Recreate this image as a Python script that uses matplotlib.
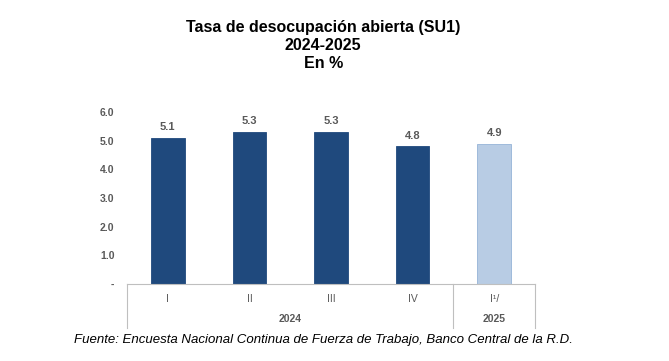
import matplotlib.pyplot as plt
import matplotlib.transforms as mtransforms

plt.rcParams['font.family'] = ['Liberation Sans', 'DejaVu Sans']

quarters = ['I', 'II', 'III', 'IV', 'I\u00b9/']
values = [5.1, 5.3, 5.3, 4.8, 4.9]
years = ['2024', '2025']
year_groups = [(0, 3), (4, 4)]  # first and last bar index in each year
ytick_labels = ['-', '1.0', '2.0', '3.0', '4.0', '5.0', '6.0']

dark = '#1F497D'
light = '#B8CCE4'
gray = '#595959'
line_gray = '#BFBFBF'

fig = plt.figure(figsize=(6.69, 3.61), dpi=100)
ax = fig.add_axes([0.1898, 0.2133, 0.6099, 0.4765])

x = list(range(len(values)))
colors = [dark] * 4 + [light]
edges = [dark] * 4 + ['#95B3D7']
ax.bar(x, values, width=0.41, color=colors, edgecolor=edges, linewidth=0.6)

for xi, v in zip(x, values):
    ax.text(xi, v + 0.2, f'{v:.1f}', ha='center', va='bottom', fontsize=8,
            fontweight='bold', color=gray, clip_on=False)

ax.set_xlim(-0.5, 4.5)
ax.set_ylim(0, 6)
ax.set_yticks(range(7))
ax.set_yticklabels(ytick_labels)
ax.tick_params(axis='y', length=0, pad=9, labelsize=7.5, labelcolor=gray)
for lab in ax.get_yticklabels():
    lab.set_fontweight('bold')
ax.set_xticks([])

for s in ['top', 'right', 'left']:
    ax.spines[s].set_visible(False)
ax.spines['bottom'].set_color(line_gray)
ax.spines['bottom'].set_linewidth(0.8)

trans = mtransforms.blended_transform_factory(ax.transData, ax.transAxes)
for sx in [-0.5, 3.5, 4.5]:
    ax.plot([sx, sx], [0, -0.256], transform=trans, color=line_gray, lw=0.8, clip_on=False)

for xi, q in zip(x, quarters):
    ax.text(xi, -0.085, q, transform=trans, ha='center', va='center', fontsize=7.5, color=gray)

for yr, (a, b) in zip(years, year_groups):
    ax.text((a + b) / 2, -0.205, yr, transform=trans, ha='center', va='center',
            fontsize=7.5, fontweight='bold', color=gray)

fig.text(0.483, 0.873, 'Tasa de desocupación abierta (SU1)\n2024-2025\nEn %',
         ha='center', va='center', fontsize=11.5, fontweight='bold',
         linespacing=1.25, color='black')

fig.text(0.483, 0.058, 'Fuente: Encuesta Nacional Continua de Fuerza de Trabajo, Banco Central de la R.D.',
         ha='center', va='center', fontsize=9.5, style='italic', color='black')

fig.savefig('out.png', dpi=100, facecolor='white')
